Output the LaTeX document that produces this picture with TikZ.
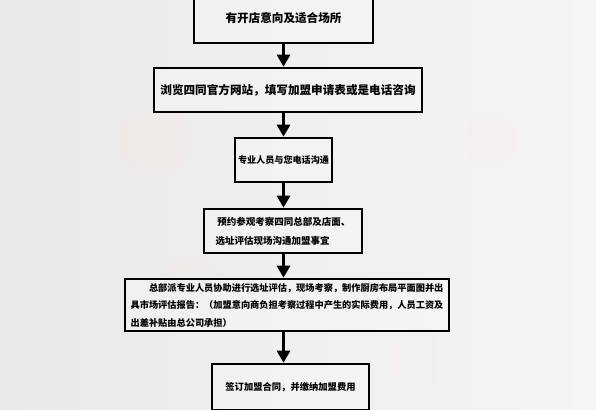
\documentclass[tikz,border=0pt]{standalone}
\usepackage{fontspec}
\newfontfamily\cjk{Noto Sans CJK SC}
\usetikzlibrary{arrows.meta,fadings}
\definecolor{bgL}{HTML}{E9E9EA}
\definecolor{bgR}{HTML}{F6F5F5}
\definecolor{bok}{HTML}{F8E2DC}
\begin{document}
\begin{tikzpicture}[x=1pt,y=-1pt,
  box/.style={draw=black,line width=2.6pt,fill=white,fill opacity=0.25,text opacity=1,
    rectangle,inner sep=0pt,font=\cjk\bfseries},
  flow/.style={line width=3pt,-{Triangle[width=13pt,length=12pt]}},
  bokeh/.style={fill=bok,path fading=circle with fuzzy edge 20 percent}]
\useasboundingbox (0,0) rectangle (596,409);
\begin{scope}
\clip (0,0) rectangle (596,409);
\shade[left color=bgL,right color=bgR] (0,0) rectangle (596,409);
\fill[bokeh,opacity=0.25] (155,140) circle (40);
\fill[bokeh,opacity=0.18] (195,280) circle (32);
\fill[bokeh,opacity=0.15] (490,140) circle (30);
\fill[bokeh,opacity=0.12] (420,360) circle (35);

\node[box,minimum width=179pt,minimum height=50pt,font=\cjk\bfseries\fontsize{11.6}{14}\selectfont] (b1) at (283.5,18) {有开店意向及适合场所};
\node[box,minimum width=268pt,minimum height=44pt,font=\cjk\bfseries\fontsize{11.6}{14}\selectfont] (b2) at (288,90) {浏览四同官方网站，填写加盟申请表或是电话咨询};
\node[box,minimum width=97pt,minimum height=44pt,font=\cjk\bfseries\fontsize{9.1}{12}\selectfont] (b3) at (283.5,160) {专业人员与您电话沟通};
\node[box,minimum width=158pt,minimum height=44pt,align=left,font=\cjk\bfseries\fontsize{9.5}{19}\selectfont] (b4) at (283,231) {\,预约参观考察四同总部及店面、\\选址评估现场沟通加盟事宜};
\node[box,minimum width=324pt,minimum height=52pt,align=left,font=\cjk\bfseries\fontsize{9.2}{17.5}\selectfont] (b5) at (287,305) {\hspace*{2em}总部派专业人员协助进行选址评估，现场考察，制作厨房布局平面图并出\\具市场评估报告：（加盟意向商负担考察过程中产生的实际费用，人员工资及\\出差补贴由总公司承担）};
\node[box,minimum width=157pt,minimum height=46pt,font=\cjk\bfseries\fontsize{9.3}{12}\selectfont] (b6) at (290.5,387) {签订加盟合同，并缴纳加盟费用};

\draw[flow] (b1.south) -- (b1.south |- b2.north);
\draw[flow] (b1.south |- b2.south) -- (b1.south |- b3.north);
\draw[flow] (b1.south |- b3.south) -- (b1.south |- b4.north);
\draw[flow] (b1.south |- b4.south) -- (b1.south |- b5.north);
\draw[flow] (b1.south |- b5.south) -- (b1.south |- b6.north);
\end{scope}
\end{tikzpicture}
\end{document}
